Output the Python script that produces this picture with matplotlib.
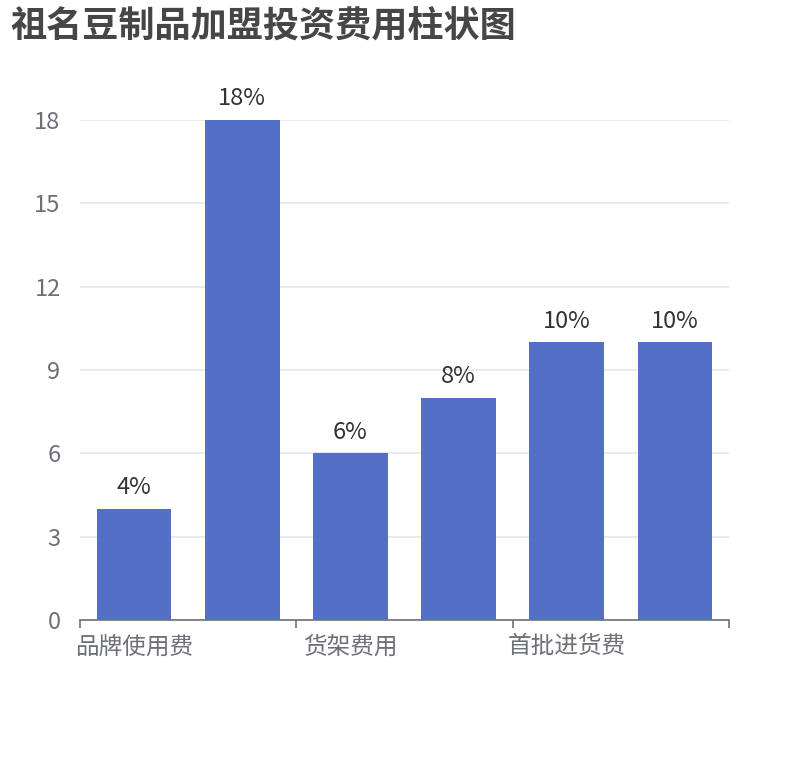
import matplotlib
matplotlib.use('Agg')
import matplotlib.pyplot as plt

plt.rcParams['font.family'] = ['Noto Sans CJK SC', 'DejaVu Sans']

categories = ['品牌使用费', '店面装修费', '货架费用', '设备购置费', '首批进货费', '流动资金']
values = [4, 18, 6, 8, 10, 10]
labels = ['4%', '18%', '6%', '8%', '10%', '10%']
yticks = [0, 3, 6, 9, 12, 15, 18]

fig = plt.figure(figsize=(8.1, 7.6), dpi=100)
ax = fig.add_axes([80 / 810, 1 - 620 / 760, 649 / 810, 500 / 760])

x = list(range(len(categories)))
bars = ax.bar(x, values, width=0.69, color='#5470c6', zorder=3)
for b, lab in zip(bars, labels):
    ax.annotate(lab, (b.get_x() + b.get_width() / 2, b.get_height()),
                xytext=(0, 7), textcoords='offset points',
                ha='center', va='bottom', fontsize=17, color='#333333')

ax.set_xlim(-0.5, len(categories) - 0.5)
ax.set_ylim(0, 18)
ax.set_yticks(yticks)
ax.set_yticklabels([str(v) for v in yticks], fontsize=17, color='#6e7079')
ax.yaxis.grid(True, color='#e0e6f1', linewidth=1.2, zorder=0)
ax.tick_params(axis='y', length=0, pad=14)

# show every other category label, ticks on category boundaries
ax.set_xticks([i - 0.5 for i in range(0, len(categories) + 1, 2)])
ax.set_xticklabels([])
ax.set_xticks(x[::2], minor=True)
ax.set_xticklabels(categories[::2], minor=True, fontsize=17, color='#6e7079')
ax.tick_params(axis='x', which='major', length=6, width=1.2, color='#6e7079')
ax.tick_params(axis='x', which='minor', length=0, pad=11)

for s in ['top', 'right', 'left']:
    ax.spines[s].set_visible(False)
ax.spines['bottom'].set_color('#6e7079')
ax.spines['bottom'].set_linewidth(1.2)

fig.text(10 / 810, 1 - 27 / 760, '祖名豆制品加盟投资费用柱状图', fontsize=26,
         fontweight='bold', color='#464646', va='center', ha='left')

fig.savefig('out.png', dpi=100)
